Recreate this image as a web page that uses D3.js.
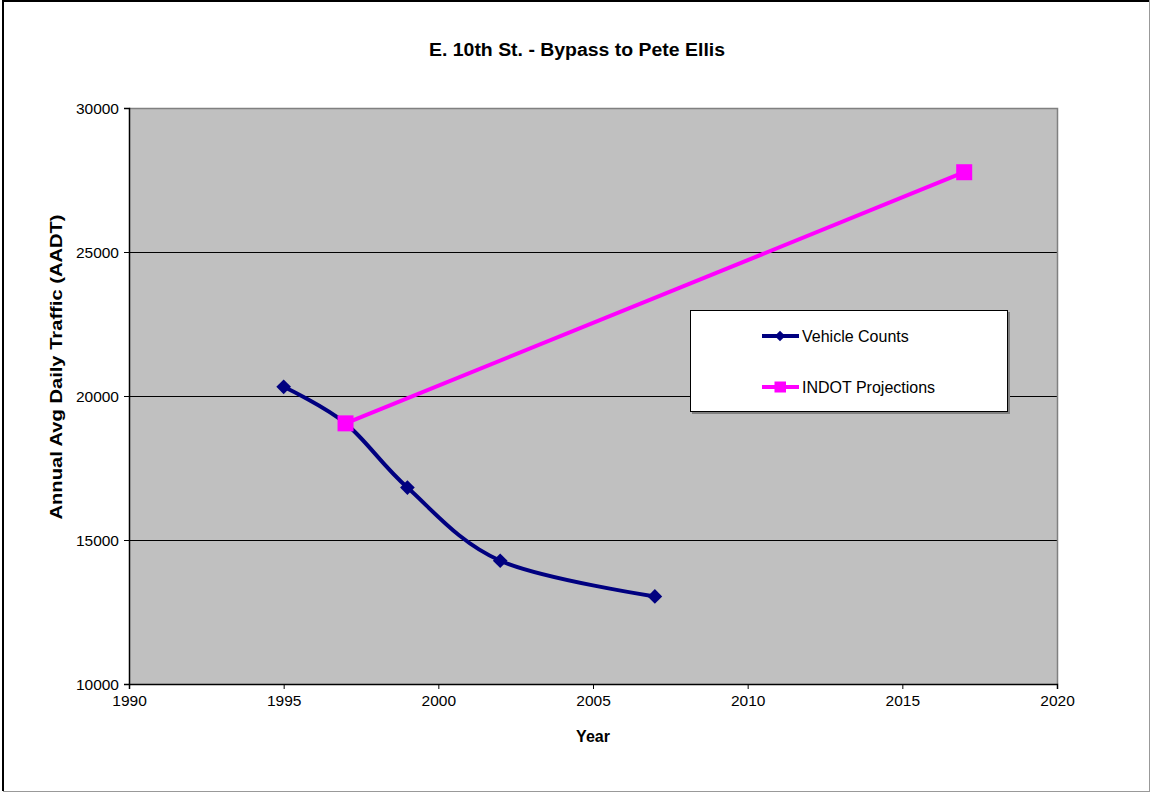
<!DOCTYPE html>
<html>
<head>
<meta charset="utf-8">
<script src="https://cdn.jsdelivr.net/npm/d3@7"></script>
<style>
  html, body { margin: 0; padding: 0; background: #fff; }
  svg { display: block; }
  text { font-family: "Liberation Sans", Arial, sans-serif; fill: #000; }
</style>
</head>
<body>
<svg id="chart" width="1150" height="792"></svg>
<script>
const chartTitle = "E. 10th St. - Bypass to Pete Ellis";
const xTitle = "Year";
const yTitle = "Annual Avg Daily Traffic (AADT)";

const countYears = [1995, 1997, 1999, 2002, 2007];
const countValues = [20320, 19050, 16820, 14280, 13040];

const indotYears = [1997, 2017];
const indotValues = [19050, 27770];

const xTicks = [1990, 1995, 2000, 2005, 2010, 2015, 2020];
const yTicks = [10000, 15000, 20000, 25000, 30000];

const seriesNames = ["Vehicle Counts", "INDOT Projections"];
const seriesColors = ["#000080", "#FF00FF"];

const W = 1150, H = 792;
const plot = { left: 129, right: 1057, top: 108, bottom: 684 };

const svg = d3.select("#chart");

// outer frame
svg.append("rect").attr("x", 0).attr("y", 0).attr("width", W).attr("height", H).attr("fill", "#fff");
svg.append("line").attr("x1", 2).attr("x2", 1149).attr("y1", 1).attr("y2", 1).attr("stroke", "#000").attr("stroke-width", 2);
svg.append("line").attr("x1", 3).attr("x2", 3).attr("y1", 0).attr("y2", 791).attr("stroke", "#000").attr("stroke-width", 2);
svg.append("line").attr("x1", 1149.5).attr("x2", 1149.5).attr("y1", 0).attr("y2", 792).attr("stroke", "#999").attr("stroke-width", 1);
svg.append("line").attr("x1", 3).attr("x2", 1150).attr("y1", 791.5).attr("y2", 791.5).attr("stroke", "#999").attr("stroke-width", 1);

const x = d3.scaleLinear().domain([1990, 2020]).range([plot.left, plot.right]);
const y = d3.scaleLinear().domain([10000, 30000]).range([plot.bottom, plot.top]);

// plot background
svg.append("rect")
  .attr("x", plot.left).attr("y", plot.top)
  .attr("width", plot.right - plot.left).attr("height", plot.bottom - plot.top)
  .attr("fill", "#C0C0C0");

// gridlines
svg.append("g").selectAll("line")
  .data(yTicks.filter(v => v > 10000 && v < 30000))
  .join("line")
  .attr("x1", plot.left).attr("x2", plot.right)
  .attr("y1", d => Math.round(y(d)) + 0.5).attr("y2", d => Math.round(y(d)) + 0.5)
  .attr("stroke", "#000").attr("stroke-width", 1);

// top & right plot border (gray)
svg.append("path")
  .attr("d", `M${plot.left},${plot.top + 0.5}H${plot.right + 0.5}V${plot.bottom}`)
  .attr("fill", "none").attr("stroke", "#808080").attr("stroke-width", 1.5);

// axes
const xAxis = d3.axisBottom(x).tickValues(xTicks).tickFormat(d3.format("d")).tickSizeOuter(0).tickSize(5).tickPadding(6);
const yAxis = d3.axisLeft(y).tickValues(yTicks).tickFormat(d3.format("d")).tickSizeOuter(0).tickSize(5).tickPadding(5);

const gx = svg.append("g").attr("transform", `translate(0,${plot.bottom})`).call(xAxis);
const gy = svg.append("g").attr("transform", `translate(${plot.left},0)`).call(yAxis);
[gx, gy].forEach(g => {
  g.select(".domain").attr("stroke", "#000").attr("stroke-width", 1.5);
  g.selectAll(".tick line").attr("stroke", "#000");
  g.selectAll(".tick text").style("font-family", '"Liberation Sans", Arial, sans-serif').style("font-size", "15.5px").attr("fill", "#000");
});
gx.selectAll(".tick text").attr("dy", "0.71em");
gy.selectAll(".tick text").attr("dy", "0.35em");

// title & axis titles
svg.append("text").attr("x", 577).attr("y", 56).attr("text-anchor", "middle")
  .attr("textLength", 296).attr("lengthAdjust", "spacingAndGlyphs")
  .style("font-size", "18px").style("font-weight", "bold").text(chartTitle);
svg.append("text").attr("x", 593).attr("y", 742).attr("text-anchor", "middle")
  .style("font-size", "16px").style("font-weight", "bold").text(xTitle);
svg.append("text").attr("transform", "translate(62,367) rotate(-90)").attr("text-anchor", "middle")
  .attr("textLength", 305).attr("lengthAdjust", "spacingAndGlyphs")
  .style("font-size", "16.5px").style("font-weight", "bold").text(yTitle);

// series
const counts = countYears.map((d, i) => ({ x: d, y: countValues[i] }));
const indot = indotYears.map((d, i) => ({ x: d, y: indotValues[i] }));

const smooth = d3.line().x(d => x(d.x)).y(d => y(d.y)).curve(d3.curveCardinal.tension(0));
const straight = d3.line().x(d => x(d.x)).y(d => y(d.y));

svg.append("path").datum(counts).attr("d", smooth)
  .attr("fill", "none").attr("stroke", seriesColors[0]).attr("stroke-width", 4).attr("stroke-linejoin", "round");
svg.append("g").selectAll("path").data(counts).join("path")
  .attr("transform", d => `translate(${x(d.x)},${y(d.y)}) rotate(45)`)
  .attr("d", d3.symbol().type(d3.symbolSquare).size(108))
  .attr("fill", seriesColors[0]);

svg.append("path").datum(indot).attr("d", straight)
  .attr("fill", "none").attr("stroke", seriesColors[1]).attr("stroke-width", 4);
svg.append("g").selectAll("rect").data(indot).join("rect")
  .attr("x", d => x(d.x) - 8).attr("y", d => y(d.y) - 8)
  .attr("width", 16).attr("height", 16)
  .attr("fill", seriesColors[1]);

// legend
const lg = svg.append("g");
lg.append("rect").attr("x", 692).attr("y", 312).attr("width", 318).attr("height", 102).attr("fill", "#808080");
lg.append("rect").attr("x", 690.5).attr("y", 310.5).attr("width", 317).attr("height", 101)
  .attr("fill", "#fff").attr("stroke", "#000").attr("stroke-width", 1);
const legY = [336, 387];
seriesNames.forEach((name, i) => {
  lg.append("line").attr("x1", 762).attr("x2", 799).attr("y1", legY[i]).attr("y2", legY[i])
    .attr("stroke", seriesColors[i]).attr("stroke-width", 4);
  if (i === 0) {
    lg.append("path").attr("transform", `translate(780,${legY[i]}) rotate(45)`)
      .attr("d", d3.symbol().type(d3.symbolSquare).size(55)).attr("fill", seriesColors[i]);
  } else {
    lg.append("rect").attr("x", 774.5).attr("y", legY[i] - 5.5).attr("width", 11.5).attr("height", 11).attr("fill", seriesColors[i]);
  }
  lg.append("text").attr("x", 802).attr("y", legY[i]).attr("dy", "0.35em")
    .style("font-size", "16px").text(name);
});
</script>
</body>
</html>
